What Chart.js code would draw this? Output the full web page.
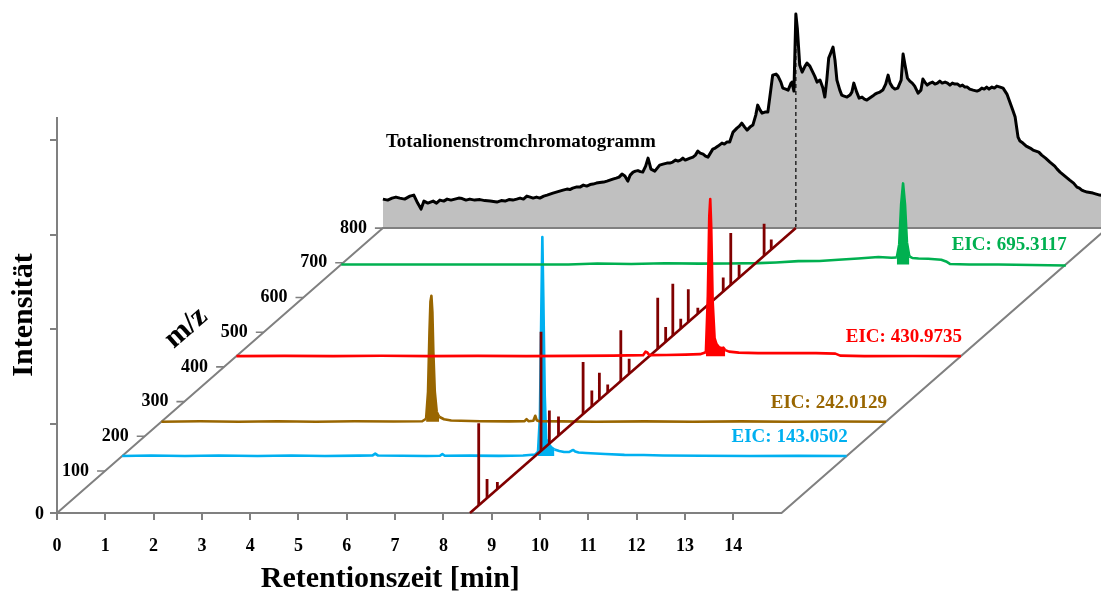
<!DOCTYPE html>
<html>
<head>
<meta charset="utf-8">
<script src="https://cdn.jsdelivr.net/npm/chart.js@4.4.1/dist/chart.umd.min.js"></script>
<style>
  html, body { margin: 0; padding: 0; background: #ffffff; }
  #wrap { width: 1101px; height: 593px; position: relative; }
</style>
</head>
<body>
<div id="wrap"><canvas id="chart"></canvas></div>
<script>
// ---------------------------------------------------------------------------
// Data
// ---------------------------------------------------------------------------

// Total ion current chromatogram (retention time in min, intensity in a.u.)
const ticTime = [0.00,0.10,0.19,0.27,0.35,0.45,0.56,0.64,0.72,0.79,0.85,0.93,1.04,1.11,1.18,1.26,1.33,1.41,1.49,1.57,1.64,1.72,1.80,1.90,2.01,2.11,2.22,2.36,2.45,2.53,2.61,2.69,2.77,2.84,2.91,2.98,3.05,3.11,3.18,3.25,3.33,3.40,3.46,3.52,3.59,3.66,3.73,3.81,3.87,3.93,4.00,4.08,4.15,4.22,4.29,4.35,4.42,4.49,4.57,4.64,4.70,4.76,4.83,4.89,4.95,5.01,5.07,5.12,5.18,5.23,5.28,5.33,5.38,5.44,5.49,5.55,5.63,5.68,5.73,5.80,5.88,5.94,6.00,6.06,6.11,6.16,6.21,6.26,6.31,6.36,6.42,6.47,6.52,6.57,6.63,6.68,6.73,6.78,6.83,6.88,6.94,7.02,7.07,7.12,7.18,7.25,7.33,7.38,7.43,7.49,7.54,7.60,7.66,7.72,7.76,7.81,7.85,7.91,7.97,8.03,8.07,8.14,8.18,8.24,8.28,8.34,8.39,8.45,8.47,8.51,8.53,8.55,8.58,8.63,8.68,8.74,8.78,8.84,8.88,8.94,8.99,9.05,9.11,9.15,9.19,9.23,9.28,9.32,9.36,9.40,9.46,9.50,9.55,9.61,9.67,9.71,9.75,9.81,9.86,9.92,9.97,10.02,10.08,10.14,10.19,10.23,10.29,10.35,10.41,10.46,10.50,10.55,10.60,10.66,10.73,10.77,10.81,10.86,10.91,10.96,11.01,11.08,11.14,11.18,11.22,11.27,11.33,11.38,11.43,11.48,11.53,11.58,11.64,11.69,11.74,11.79,11.84,11.90,11.95,12.00,12.05,12.10,12.15,12.22,12.30,12.35,12.40,12.45,12.50,12.55,12.61,12.66,12.71,12.78,12.84,12.92,12.98,13.04,13.09,13.15,13.19,13.25,13.32,13.40,13.46,13.52,13.58,13.64,13.72,13.81,13.86,13.91,13.96,14.02,14.07,14.12,14.17,14.22,14.30,14.37,14.42,14.47,14.52,14.58,14.64,14.70,14.77,14.84,14.92,15.00];
const ticIntensity = [29,28,30,31,30,29,32,33,25,19,27,25,27,25,28,27,29,28,29,30,29.5,28,29,28,28.5,27.5,27,26,27.5,27,28.5,28,29,30,29,32,31,30,31,30,32,33,34,35,36,37,38,39,38.5,40,41,41,43,42,43.5,44,45,45.5,46,47,48,49,50,51,54,52,47,53,56,57,57.5,56.5,56,62,70,59,57,60,63,64,65,65,66,68,67,68,70,68,69,70,71,73,77,75,74,72,71,75,79,80,82,85,84,86,86,96,100,102,105,101,98,101,103,113,123,118,115,116,116,138,153,154,152,146,140,139,138,145,146,137,175,214,200,163,156,162,165,162,158,152,146,148,140,131,148,170,176,181,168,148,138,133,132,131,133,136,145,136,130,131,129,128,130,132,134,135,136,138,144,153,145,141,139,140,148,174,163,150,147,145,142,135,138,149,146,143,145,146,144,145,147,145,146,145,143,145,144,144,142,143,141,141,139,138,137,138,140,139,141,139,141,140,142,141,140,134,126,118,111,91,87,85,82,80,78,77,76,73,70,66,64,62,59,56,54,52,50,48,45,41,40,38,37,36,35.5,35,34,33,32.5,32];

// Extracted ion chromatogram m/z 143.0502
const eic143Time = [0,0.6,1.3,2.0,2.8,3.5,4.2,4.9,5.18,5.24,5.30,5.8,6.3,6.58,6.63,6.68,7.2,7.8,8.3,8.55,8.61,8.65,8.68,8.70,8.72,8.75,8.78,8.82,8.88,8.95,9.05,9.15,9.25,9.31,9.34,9.38,9.45,9.6,9.8,10.0,10.4,10.8,11.2,12.0,13.0,14.0,15.0];
const eic143Intensity = [0,0.6,0,0.5,0,0.6,0,0.4,0.5,2.5,0.5,0.3,0,0.3,2,0.3,0.4,0.2,0.6,1.5,4,40,150,219,160,60,17,13,9,6.5,5,4,4,5.5,6,4.5,3.5,3,2.5,2,1.2,1,0.5,0.3,0,0.2,0];

// Extracted ion chromatogram m/z 242.0129
const eic242Time = [0,0.8,1.6,2.4,3.2,4.0,4.8,5.4,5.48,5.52,5.55,5.57,5.59,5.61,5.63,5.66,5.70,5.75,5.85,6.0,6.6,7.2,7.52,7.56,7.60,7.70,7.74,7.77,7.82,8.3,9.0,10.0,11.0,12.0,13.0,14.0,15.0];
const eic242Intensity = [0,0.4,0,0.5,0,0.4,0.2,0.5,3,30,90,120,126,110,70,30,10,5,2.5,1.2,0.5,0.3,0.5,2.5,0.5,1,6,1.5,0.5,0.3,0,0.3,0,0.3,0,0.2,0];

// Extracted ion chromatogram m/z 430.9735
const eic431Time = [0,1,2,3,4,5,6,7,7.8,8.42,8.47,8.50,8.55,8.9,9.3,9.6,9.72,9.76,9.79,9.81,9.83,9.86,9.90,9.94,9.99,10.05,10.08,10.12,10.2,10.4,10.8,11.4,12.0,12.4,12.5,13,14,15];
const eic431Intensity = [0,0.3,0,0.4,0,0.3,0,0.3,0.5,1,4.5,4,1,1.2,1.5,2,4,60,140,157,130,55,18,12,9,8,8.5,6,4.5,3.5,3,3,3,2.5,0.5,0,0.2,0];

// Extracted ion chromatogram m/z 695.3117
const eic695Time = [0,1,2,3,4,4.7,5.3,6.0,6.7,7.4,8.0,8.63,9.0,9.46,9.9,10.29,10.7,11.12,11.39,11.50,11.55,11.59,11.63,11.67,11.71,11.76,11.82,11.95,12.15,12.42,12.52,12.6,13.0,13.6,14.3,15.0];
const eic695Intensity = [0,0,0,0,0,0,1,0.5,1.2,0.8,1,1.3,2,3.3,3.5,4.7,6,7.5,6.7,7,20,60,81,60,22,8,6.5,6,5.7,4.7,3,0.5,0,0,-0.5,-1];

// Mass spectrum at the TIC maximum
const spectrumTime = 8.55;
const spectrumMz = [1,22,48,158,179,202,264,286,305,326,359,380,452,472,490,510,529,553,617,636,657,720,738];
const spectrumIntensity = [82,19,7,119,33,19,52,16,27,8,51,15,51,15,52,10,33,6,14,52,13,32,10];

// Axis ticks
const rtTicks = [0,1,2,3,4,5,6,7,8,9,10,11,12,13,14];
const mzTicks = [100,200,300,400,500,600,700,800];
const intensityTicks = [0,89,184,278,373];

// ---------------------------------------------------------------------------
// Pseudo-3D projection: retention time runs left-right, m/z runs into depth
// along the slanted floor axis, intensity rises vertically.
// ---------------------------------------------------------------------------
const W = 1101, H = 593;
const ORIGIN_PX = { x: 57, y: 513 };   // canvas position of rt 0 on the front edge
const PX_PER_MIN = 48.3;               // horizontal pixels per minute
const SHEAR = 1.1439;                  // horizontal shift per unit of depth rise
const DEPTH_AT_MZ0 = 7.3;              // rise of m/z 0 above the front edge
const DEPTH_PER_MZ = 0.347;            // rise per m/z unit
const RT_END = 15;                     // floor length in minutes
const MZ_BACK = 800;                   // m/z at the back edge of the floor
const INTENSITY_AXIS_TOP = 396;
const PEAK_FILL_MIN = 8;               // EIC areas are shaded only above this level

const X_MIN = -ORIGIN_PX.x / PX_PER_MIN;
const X_MAX = (W - ORIGIN_PX.x) / PX_PER_MIN;
const Y_MIN = ORIGIN_PX.y - H;
const Y_MAX = ORIGIN_PX.y;

const depthOf = mz => DEPTH_AT_MZ0 + DEPTH_PER_MZ * mz;
const project = (rt, depth, intensity) => ({ x: rt + depth * SHEAR / PX_PER_MIN, y: depth + intensity });
const GAP = x => ({ x: x, y: null });

const GREY = '#808080';
const SERIF = "'Liberation Serif', 'Times New Roman', serif";

const lanes = [
  { mz: 143.0502, time: eic143Time, values: eic143Intensity, color: '#00B0F0', order: 12 },
  { mz: 242.0129, time: eic242Time, values: eic242Intensity, color: '#996600', order: 11 },
  { mz: 695.3117, time: eic695Time, values: eic695Intensity, color: '#00B050', order: 10 },
  { mz: 430.9735, time: eic431Time, values: eic431Intensity, color: '#FF0000', order: 3 }
];

const backDepth = depthOf(MZ_BACK);

// floor outline: front edge, right edge, back edge, m/z axis
const floorOutline = [
  project(0, 0, 0), project(RT_END, 0, 0),
  project(RT_END, backDepth, 0), project(0, backDepth, 0), project(0, 0, 0)
];

// short stubs on the m/z axis
const mzStubs = [];
mzTicks.forEach(m => {
  const p = project(0, depthOf(m), 0);
  mzStubs.push({ x: p.x - 8 / PX_PER_MIN, y: p.y }, { x: p.x, y: p.y }, GAP(p.x));
});

const ticPeak = ticIntensity[ticTime.indexOf(spectrumTime)];

const sticks = [];
spectrumMz.forEach((m, i) => {
  const base = project(spectrumTime, depthOf(m), 0);
  const top = project(spectrumTime, depthOf(m), spectrumIntensity[i]);
  sticks.push(base, top, GAP(base.x));
});

const common = { pointRadius: 0, pointHoverRadius: 0, tension: 0, spanGaps: false, fill: false };

const datasets = [
  Object.assign({}, common, {
    label: 'Totalionenstromchromatogramm',
    data: ticTime.map((t, i) => project(t, backDepth, ticIntensity[i])),
    borderColor: '#000000', borderWidth: 3, borderJoinStyle: 'round',
    backgroundColor: '#C0C0C0', fill: { value: backDepth }, order: 20
  }),
  Object.assign({}, common, {
    label: 'TIC-Maximum',
    data: [project(spectrumTime, backDepth, 0), project(spectrumTime, backDepth, ticPeak)],
    borderColor: '#000000', borderWidth: 1.2, borderDash: [4, 3], order: 19
  }),
  Object.assign({}, common, {
    label: 'Boden', data: floorOutline, borderColor: GREY, borderWidth: 2, order: 18
  }),
  Object.assign({}, common, {
    label: 'm/z-Striche', data: mzStubs, borderColor: GREY, borderWidth: 1.6, order: 18
  }),
  Object.assign({}, common, {
    label: 'Intensitätsachse',
    data: [{ x: 0, y: 0 }, { x: 0, y: INTENSITY_AXIS_TOP }],
    borderColor: GREY, borderWidth: 2, order: 18
  }),
  Object.assign({}, common, {
    label: 'Spektrum-Achse',
    data: [project(spectrumTime, 0, 0), project(spectrumTime, backDepth, 0)],
    borderColor: '#800000', borderWidth: 2.6, order: 6
  }),
  Object.assign({}, common, {
    label: 'Massenspektrum', data: sticks,
    borderColor: '#800000', borderWidth: 2.8, borderCapStyle: 'butt', order: 5
  })
];

lanes.forEach(l => {
  const d = depthOf(l.mz);
  datasets.push(Object.assign({}, common, {
    label: 'EIC: ' + l.mz.toFixed(4),
    data: l.time.map((t, i) => project(t, d, l.values[i])),
    borderColor: l.color, borderWidth: 2.6, borderJoinStyle: 'round',
    backgroundColor: l.color, fill: { value: d }, order: l.order,
    segment: {
      backgroundColor: c => (l.values[c.p0DataIndex] > PEAK_FILL_MIN || l.values[c.p1DataIndex] > PEAK_FILL_MIN)
        ? l.color : 'rgba(0,0,0,0)'
    }
  }));
});

// ---------------------------------------------------------------------------
// Text labels placed through the chart scales
// ---------------------------------------------------------------------------
const labelPlugin = {
  id: 'labels3d',
  afterDraw(chart) {
    const { ctx, scales } = chart;
    const sx = v => scales.x.getPixelForValue(v);
    const sy = v => scales.y.getPixelForValue(v);
    const at = p => ({ x: sx(p.x), y: sy(p.y) });

    ctx.save();
    ctx.fillStyle = '#000000';
    ctx.textBaseline = 'middle';

    // m/z tick labels
    ctx.font = 'bold 18px ' + SERIF;
    ctx.textAlign = 'right';
    mzTicks.forEach(m => {
      const p = at(project(0, depthOf(m), 0));
      ctx.fillText(String(m), p.x - 16, p.y);
    });
    // origin label
    const o = at({ x: 0, y: 0 });
    ctx.fillText('0', o.x - 13, o.y + 1);

    // m/z axis title, along the slanted axis
    const a0 = at(project(0, 0, 0));
    const a1 = at(project(0, backDepth, 0));
    const ang = Math.atan2(a1.y - a0.y, a1.x - a0.x);
    const mp = at(project(0, depthOf(400), 0));
    ctx.save();
    ctx.translate(mp.x - 38, mp.y - 39);
    ctx.rotate(ang);
    ctx.textAlign = 'center';
    ctx.font = 'bold 30px ' + SERIF;
    ctx.fillText('m/z', 0, 0);
    ctx.restore();

    // intensity axis title
    ctx.save();
    ctx.translate(24, sy(INTENSITY_AXIS_TOP / 2));
    ctx.rotate(-Math.PI / 2);
    ctx.textAlign = 'center';
    ctx.font = 'bold 30px ' + SERIF;
    ctx.fillText('Intensität', 0, 0);
    ctx.restore();

    // retention time axis title
    ctx.textAlign = 'center';
    ctx.font = 'bold 30px ' + SERIF;
    ctx.fillText('Retentionszeit [min]', sx(6.9), o.y + 66);

    // chromatogram title
    ctx.textAlign = 'left';
    ctx.font = 'bold 19px ' + SERIF;
    const tp = at(project(0, backDepth, 86));
    ctx.fillText('Totalionenstromchromatogramm', tp.x + 3, tp.y);

    // EIC lane labels at the right end of each lane
    ctx.textAlign = 'right';
    lanes.forEach(l => {
      const p = at(project(RT_END, depthOf(l.mz), 0));
      ctx.fillStyle = l.color;
      ctx.fillText('EIC: ' + l.mz.toFixed(4), p.x + 1, p.y - 19);
    });
    ctx.restore();
  }
};

new Chart(document.getElementById('chart'), {
  type: 'line',
  data: { datasets: datasets },
  options: {
    responsive: true,
    maintainAspectRatio: false,
    animation: false,
    events: [],
    layout: { padding: 0 },
    plugins: { legend: { display: false }, tooltip: { enabled: false }, title: { display: false } },
    scales: {
      x: {
        type: 'linear', min: X_MIN, max: X_MAX, position: { y: 0 },
        afterBuildTicks: s => { s.ticks = rtTicks.map(v => ({ value: v })); },
        border: { display: false },
        grid: { drawOnChartArea: false, drawTicks: true, tickLength: 7, color: GREY, lineWidth: 2 },
        ticks: {
          autoSkip: false, maxRotation: 0, minRotation: 0, padding: 16, color: '#000000',
          font: { family: SERIF, weight: 'bold', size: 18 },
          callback: v => String(v)
        }
      },
      y: {
        type: 'linear', min: Y_MIN, max: Y_MAX, position: { x: 0 },
        afterBuildTicks: s => { s.ticks = intensityTicks.map(v => ({ value: v })); },
        border: { display: false },
        grid: { drawOnChartArea: false, drawTicks: true, tickLength: 7, color: GREY, lineWidth: 2 },
        ticks: { display: false }
      }
    }
  },
  plugins: [labelPlugin]
});
</script>
</body>
</html>
